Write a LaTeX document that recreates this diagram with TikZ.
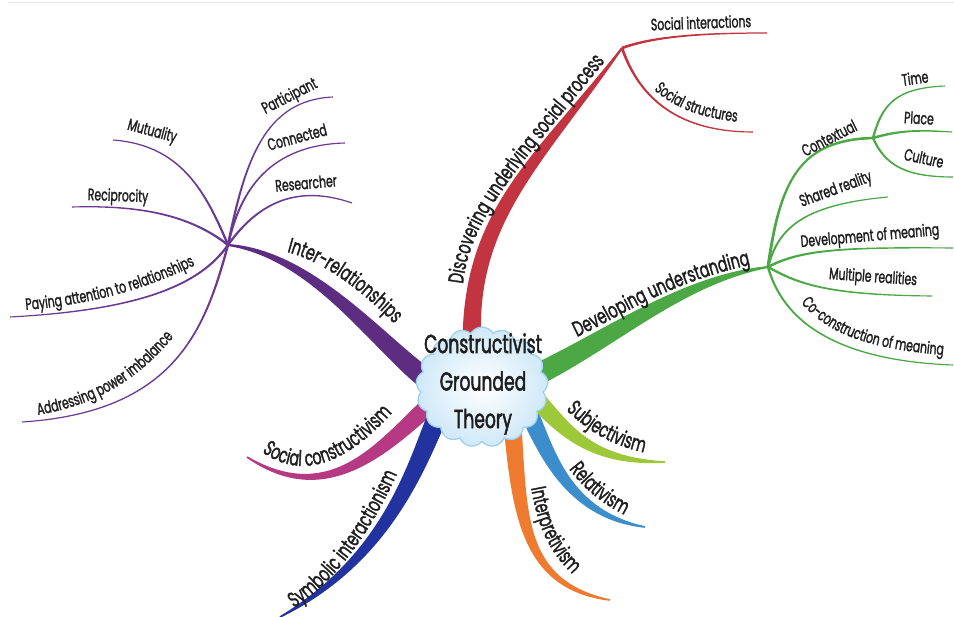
\documentclass[tikz,border=0pt]{standalone}
\usepackage{fontspec}
\usetikzlibrary{calc,shapes.symbols,decorations.text}
\newfontfamily\mmfont[FakeStretch=0.66,FakeBold=1.4]{Poppins}
\newfontfamily\mmheavy[FakeStretch=0.66,FakeBold=1.8]{Poppins}
\newcommand{\sublab}{\mmfont\fontsize{16.5}{18}\selectfont}
\newcommand{\mainlab}{\mmfont\fontsize{21.5}{24}\selectfont}
\newcommand{\centerlab}{\mmheavy\fontsize{26}{37.5}\selectfont}

\definecolor{labtext}{HTML}{1E1E1E}
\definecolor{redbr}{HTML}{C23440}
\definecolor{greenbr}{HTML}{4BA845}
\definecolor{purplebr}{HTML}{5C2D80}
\definecolor{purplesub}{HTML}{6A3A93}
\definecolor{magentabr}{HTML}{B53A83}
\definecolor{navybr}{HTML}{22329F}
\definecolor{orangebr}{HTML}{EE7B30}
\definecolor{bluebr}{HTML}{3C8DCC}
\definecolor{ygreenbr}{HTML}{9DC83A}
\definecolor{cloudfill}{HTML}{CFE8F8}
\definecolor{cloudedge}{HTML}{9FD0F0}

% tapered band: colour, start, control 1, control 2, end, half widths at those four points
\newcommand{\taper}[9]{%
  \fill[#1] ($(#2)!#6!90:(#3)$) .. controls ($(#3)!#7!90:(#4)$) and ($(#4)!#8!90:(#5)$) .. ($(#5)!#9!-90:(#4)$)
    -- ($(#5)!#9!90:(#4)$) .. controls ($(#4)!#8!-90:(#5)$) and ($(#3)!#7!-90:(#4)$) .. ($(#2)!#6!-90:(#3)$) -- cycle;}
% text set on a curved baseline
\newcommand{\curvedlabel}[3]{%
  \path[decorate, decoration={text along path, text align=left, text color=labtext, text={|#1|#2}}] #3;}

\begin{document}
\begin{tikzpicture}[x=1pt,y=-1pt,
  sublabel/.style={font=\sublab, text=labtext, inner sep=0pt}]
\useasboundingbox (0,0) rectangle (954,617);
\fill[white] (0,0) rectangle (954,617);
\draw[black!9, line width=0.6pt] (8,2.5) -- (954,2.5);

% roots (under the cloud) and hubs
\coordinate (redroot) at (472,345);
\coordinate (greenroot) at (530,378);
\coordinate (purproot) at (440,388);
\coordinate (magroot) at (435,400);
\coordinate (navyroot) at (438,415);
\coordinate (oraroot) at (512,420);
\coordinate (blueroot) at (530,415);
\coordinate (ygroot) at (535,398);

\coordinate (redhub) at (622,48);
\coordinate (greenhub) at (768,267);
\coordinate (purphub) at (228,245);
\coordinate (ctxhub) at (873,138);
\coordinate (magtip) at (247,457);
\coordinate (navytip) at (280,617);
\coordinate (oratip) at (610,600);
\coordinate (bluetip) at (645,527);
\coordinate (ygtip) at (665,462);

% twig ends
\coordinate (eSocInt) at (767,33);
\coordinate (eSocStr) at (753,132);
\coordinate (eTime) at (945,86);
\coordinate (ePlace) at (952,132);
\coordinate (eCulture) at (953,177);
\coordinate (eShared) at (888,197);
\coordinate (eDevel) at (953,248);
\coordinate (eMulti) at (932,296);
\coordinate (eCoCon) at (953,365);
\coordinate (eParti) at (333,97);
\coordinate (eConn) at (345,143);
\coordinate (eResea) at (352,203);
\coordinate (eMutu) at (113,140);
\coordinate (eRecip) at (72,207);
\coordinate (ePaying) at (10,317);
\coordinate (eAddr) at (22,422);

% main branches
\taper{redbr}{redroot}{468,215}{540,160}{redhub}{9.5pt}{9.5pt}{5.5pt}{1pt}
\taper{greenbr}{greenroot}{610,340}{680,280}{greenhub}{11pt}{10pt}{5pt}{1pt}
\taper{purplebr}{purproot}{390,360}{320,255}{purphub}{11pt}{10pt}{5pt}{1pt}
\taper{magentabr}{magroot}{385,445}{330,510}{magtip}{9pt}{8pt}{5pt}{0.8pt}
\taper{navybr}{navyroot}{415,470}{385,560}{navytip}{10pt}{9pt}{6pt}{0.8pt}
\taper{orangebr}{oraroot}{520,510}{520,585}{oratip}{9pt}{8pt}{5pt}{0.8pt}
\taper{bluebr}{blueroot}{548,455}{570,515}{bluetip}{9pt}{8pt}{5pt}{0.8pt}
\taper{ygreenbr}{ygroot}{565,430}{590,462}{ygtip}{9pt}{8pt}{5pt}{0.8pt}

% red twigs
\taper{redbr}{redhub}{650,38}{690,33}{eSocInt}{1.4pt}{1.1pt}{0.8pt}{0.55pt}
\taper{redbr}{redhub}{640,100}{680,132}{eSocStr}{1.4pt}{1.1pt}{0.8pt}{0.55pt}

% green twigs
\taper{greenbr}{greenhub}{780,180}{800,140}{ctxhub}{1.5pt}{1.4pt}{1.3pt}{1.3pt}
\taper{greenbr}{ctxhub}{882,105}{895,88}{eTime}{1.2pt}{1.0pt}{0.8pt}{0.55pt}
\taper{greenbr}{ctxhub}{900,130}{920,130}{ePlace}{1.3pt}{1.1pt}{0.8pt}{0.55pt}
\taper{greenbr}{ctxhub}{885,165}{905,177}{eCulture}{1.2pt}{1.0pt}{0.8pt}{0.55pt}
\taper{greenbr}{greenhub}{778,230}{800,205}{eShared}{1.2pt}{1.0pt}{0.8pt}{0.55pt}
\taper{greenbr}{greenhub}{800,250}{840,247}{eDevel}{1.3pt}{1.1pt}{0.8pt}{0.55pt}
\taper{greenbr}{greenhub}{800,285}{830,295}{eMulti}{1.2pt}{1.0pt}{0.8pt}{0.55pt}
\taper{greenbr}{greenhub}{780,310}{820,360}{eCoCon}{1.2pt}{1.0pt}{0.8pt}{0.55pt}

% purple twigs
\taper{purplesub}{purphub}{245,160}{265,100}{eParti}{1.2pt}{1.0pt}{0.8pt}{0.55pt}
\taper{purplesub}{purphub}{240,190}{270,145}{eConn}{1.2pt}{1.0pt}{0.8pt}{0.55pt}
\taper{purplesub}{purphub}{260,200}{300,185}{eResea}{1.2pt}{1.0pt}{0.8pt}{0.55pt}
\taper{purplesub}{purphub}{205,190}{180,145}{eMutu}{1.2pt}{1.0pt}{0.8pt}{0.55pt}
\taper{purplesub}{purphub}{190,215}{140,205}{eRecip}{1.2pt}{1.0pt}{0.8pt}{0.55pt}
\taper{purplesub}{purphub}{200,285}{140,310}{ePaying}{1.2pt}{1.0pt}{0.8pt}{0.55pt}
\taper{purplesub}{purphub}{205,330}{175,412}{eAddr}{1.2pt}{1.0pt}{0.8pt}{0.55pt}

% central cloud
\node[cloud, cloud puffs=17, cloud puff arc=120, aspect=1.1, draw=cloudedge, line width=1.3pt,
  inner color=white, outer color=cloudfill, minimum width=132pt, minimum height=120pt, inner sep=0pt]
  (cloud) at (482,387) {};
\node[align=center, font=\centerlab, text=labtext, inner sep=0pt] (title) at (483,384)
  {Constructivist\\Grounded\\Theory};

% main branch labels
\curvedlabel{\mainlab}{Discovering underlying social process}
  {(463,284) .. controls (468,240) and (490,205) .. (526,158) .. controls (548,130) and (600,68) .. (645,12)}
\curvedlabel{\mainlab}{Developing understanding}
  {(577,337) .. controls (625,315) and (680,272) .. (800,256)}
\curvedlabel{\mainlab}{Inter-relationships}
  {(287,252) .. controls (325,262) and (375,295) .. (440,375)}
\curvedlabel{\mainlab}{Social constructivism}
  {(262,452) .. controls (290,472) and (340,485) .. (415,385)}
\curvedlabel{\mainlab}{Symbolic interactionism}
  {(294,608) .. controls (336,582) and (385,520) .. (418,420)}
\curvedlabel{\mainlab}{Interpretivism}
  {(531,488) .. controls (538,525) and (548,570) .. (615,602)}
\curvedlabel{\mainlab}{Relativism}
  {(569,469) .. controls (585,490) and (605,510) .. (660,530)}
\curvedlabel{\mainlab}{Subjectivism}
  {(566,410) .. controls (590,432) and (615,452) .. (680,458)}

% twig labels
\node[sublabel, rotate=2] (lSocInt) at (701,22.5) {Social interactions};
\curvedlabel{\sublab}{Social structures}
  {(654,90) .. controls (678,110) and (705,121) .. (765,124)}
\node[sublabel, rotate=27] (lCtx) at (829,138) {Contextual};
\node[sublabel, rotate=8] (lTime) at (915,78) {Time};
\node[sublabel, rotate=-3] (lPlace) at (919,118) {Place};
\node[sublabel, rotate=-12] (lCulture) at (924,158) {Culture};
\node[sublabel, rotate=20] (lShared) at (836,190) {Shared reality};
\node[sublabel, rotate=5] (lDevel) at (870,237) {Development of meaning};
\node[sublabel, rotate=-4] (lMulti) at (873,278) {Multiple realities};
\curvedlabel{\sublab}{Co-construction of meaning}
  {(801,303) .. controls (830,335) and (870,352) .. (975,357)}
\node[sublabel, rotate=27] (lParti) at (290,97) {Participant};
\node[sublabel, rotate=15] (lConn) at (297,137) {Connected};
\node[sublabel, rotate=5] (lResea) at (306,183) {Researcher};
\node[sublabel, rotate=-15] (lMutu) at (152,132) {Mutuality};
\node[sublabel, rotate=-2] (lRecip) at (118,197) {Reciprocity};
\curvedlabel{\sublab}{Paying attention to relationships}
  {(26,310) .. controls (80,305) and (140,295) .. (215,255)}
\curvedlabel{\sublab}{Addressing power imbalance}
  {(38,415) .. controls (95,405) and (150,380) .. (200,300)}
\end{tikzpicture}
\end{document}
